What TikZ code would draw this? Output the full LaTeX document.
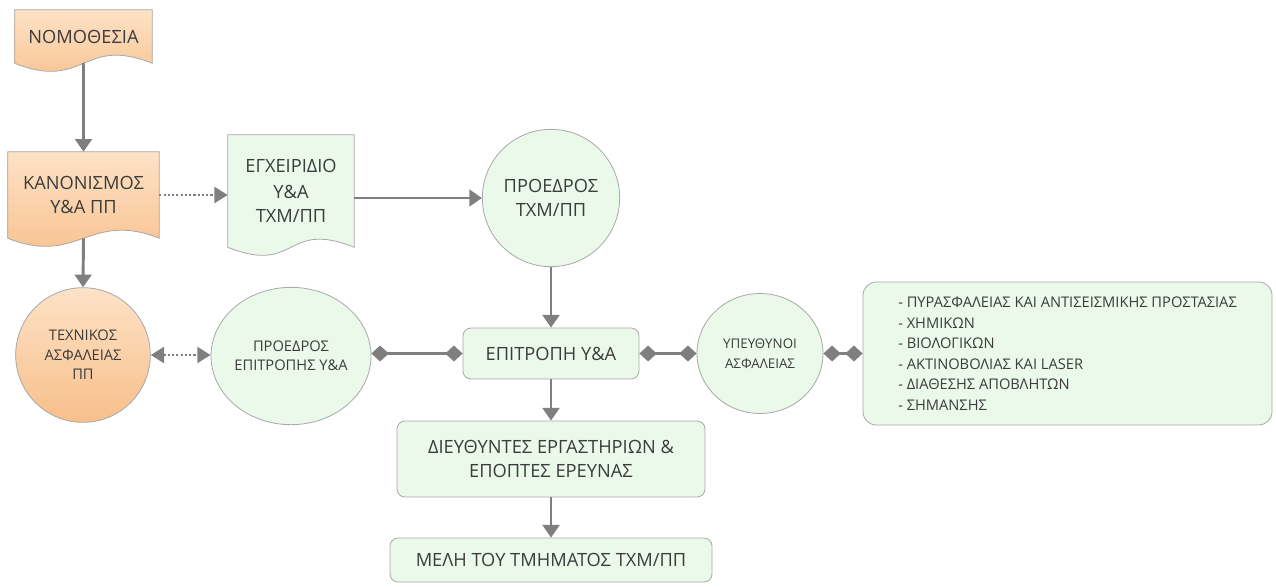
\documentclass[tikz,border=0pt]{standalone}
\usepackage{fontspec}
\setmainfont{Open Sans}
\usetikzlibrary{arrows.meta,shapes.geometric,backgrounds}

\definecolor{lineg}{HTML}{7F7F7F}
\definecolor{edgeg}{HTML}{A8A8A8}
\definecolor{mint}{HTML}{EAF9EA}
\definecolor{peachtop}{HTML}{FDE2C6}
\definecolor{peachbot}{HTML}{F8BF8B}
\definecolor{txt}{HTML}{3C3C3C}

\newcommand\bigtxt{\fontsize{13.7}{18}\selectfont}
\newcommand\midtxt{\fontsize{11}{14.5}\selectfont}
\newcommand\smalltxt{\fontsize{11}{15.4}\selectfont}

% document shape with a wavy bottom, drawn round a node
\newcommand\docshape[2]{%
  \path[#2] (#1.north west) -- (#1.north east) -- (#1.south east)
    .. controls +(-70,-28) and +(70,28) .. (#1.south west) -- cycle;}

\tikzset{
  docnode/.style={rectangle,inner sep=0pt,text=txt,align=center,font=\bigtxt},
  docpeach/.style={draw=edgeg,line width=0.6pt,top color=peachtop,bottom color=peachbot},
  docmint/.style={draw=edgeg,line width=0.6pt,fill=mint},
  mintbox/.style={rectangle,draw=edgeg,line width=0.6pt,fill=mint,rounded corners=6pt,
    text=txt,align=center,font=\bigtxt,inner sep=0pt},
  mintcirc/.style={circle,draw=edgeg,line width=0.6pt,fill=mint,text=txt,align=center,inner sep=0pt},
  peachcirc/.style={circle,draw=edgeg,line width=0.6pt,top color=peachtop,bottom color=peachbot,
    text=txt,align=center,inner sep=0pt},
  flow/.style={draw=lineg,line width=2.2pt,-{Triangle[length=9.5pt,width=12.5pt]}},
  dotflow/.style={draw=lineg,line width=1.6pt,dash pattern=on 1.6pt off 1.6pt,
    -{Triangle[length=10pt,width=12pt]}},
  link/.style={draw=lineg,line width=2pt,{Diamond[length=13pt,width=12pt]}-{Diamond[length=13pt,width=12pt]}}
}

\begin{document}
\begin{tikzpicture}[x=0.75pt,y=-0.75pt]
  \useasboundingbox (0,0) rectangle (1276,586);

  \node[docnode,minimum width=102.75pt,minimum height=39.75pt] (nomo) at (83.5,36.5) {ΝΟΜΟΘΕΣΙΑ};
  \node[docnode,minimum width=113.25pt,minimum height=64.5pt] (kanon) at (83.5,195) {ΚΑΝΟΝΙΣΜΟΣ\\Υ\&Α ΠΠ};
  \node[docnode,minimum width=94.5pt,minimum height=84pt] (egx) at (291,191) {ΕΓΧΕΙΡΙΔΙΟ\\[1pt]Υ\&Α\\ΤΧΜ/ΠΠ};
  \begin{scope}[on background layer]
    \docshape{nomo}{docpeach}
    \docshape{kanon}{docpeach}
    \docshape{egx}{docmint}
  \end{scope}

  \node[mintcirc,minimum size=103pt,font=\bigtxt] (pro1) at (551,198) {ΠΡΟΕΔΡΟΣ\\ΤΧΜ/ΠΠ};
  \node[peachcirc,minimum size=101pt,font=\midtxt] (tech) at (83,355) {ΤΕΧΝΙΚΟΣ\\ΑΣΦΑΛΕΙΑΣ\\ΠΠ};
  \node[mintcirc,ellipse,minimum width=112pt,minimum height=103pt,font=\midtxt] (pro2) at (291,356) {ΠΡΟΕΔΡΟΣ\\ΕΠΙΤΡΟΠΗΣ Υ\&Α};
  \node[mintbox,minimum width=132pt,minimum height=38.25pt] (epit) at (551,353.5) {ΕΠΙΤΡΟΠΗ Υ\&Α};
  \node[mintcirc,ellipse,minimum width=94.5pt,minimum height=90pt,font=\fontsize{10}{15}\selectfont] (ypeu) at (760,353.5) {ΥΠΕΥΘΥΝΟΙ\\ΑΣΦΑΛΕΙΑΣ};
  \node[mintbox,rounded corners=10pt,minimum width=306.75pt,minimum height=107.25pt,
    align=left,font=\smalltxt] (tomeis) at (1067.5,353.5)
    {- ΠΥΡΑΣΦΑΛΕΙΑΣ ΚΑΙ ΑΝΤΙΣΕΙΣΜΙΚΗΣ ΠΡΟΣΤΑΣΙΑΣ\\- ΧΗΜΙΚΩΝ\\- ΒΙΟΛΟΓΙΚΩΝ\\
     - ΑΚΤΙΝΟΒΟΛΙΑΣ ΚΑΙ LASER\\- ΔΙΑΘΕΣΗΣ ΑΠΟΒΛΗΤΩΝ\\- ΣΗΜΑΝΣΗΣ};
  \node[mintbox,minimum width=231pt,minimum height=57pt] (diey) at (551,459) {ΔΙΕΥΘΥΝΤΕΣ ΕΡΓΑΣΤΗΡΙΩΝ \&\\ΕΠΟΠΤΕΣ ΕΡΕΥΝΑΣ};
  \node[mintbox,minimum width=241.5pt,minimum height=33pt] (meli) at (551,560) {ΜΕΛΗ ΤΟΥ ΤΜΗΜΑΤΟΣ ΤΧΜ/ΠΠ};

  \draw[flow] (nomo.south) -- (kanon.north);
  \draw[flow] (kanon.south) -- (tech.north);
  \draw[dotflow] (kanon.east) -- (egx.west |- kanon);
  \draw[flow] (egx.east |- pro1) -- (pro1.west);
  \draw[flow] (pro1.south) -- (epit.north);
  \draw[flow] (epit.south) -- (diey.north);
  \draw[flow] (diey.south) -- (meli.north);
  \draw[dotflow,{Triangle[length=10pt,width=12pt]}-{Triangle[length=10pt,width=12pt]}] (tech.east) -- (pro2.west |- tech);
  \draw[link] (pro2.east |- epit) -- (epit.west);
  \draw[link] (epit.east) -- (ypeu.west);
  \draw[link] (ypeu.east) -- (tomeis.west);
\end{tikzpicture}
\end{document}
